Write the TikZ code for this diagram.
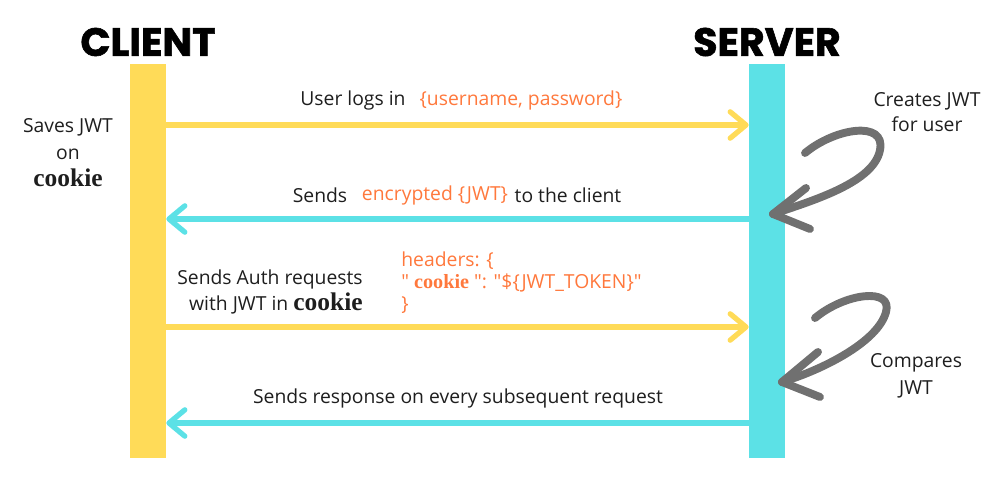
\documentclass[tikz,border=0pt]{standalone}
\usepackage{fontspec}
\setmainfont{Open Sans}[Ligatures=TeXOff]
\newfontfamily\titlefont[BoldFeatures={FakeBold=1.5}]{Poppins}
\newfontfamily\serifck{Liberation Serif}
\usetikzlibrary{arrows.meta}
\definecolor{ylw}{RGB}{255,219,88}
\definecolor{cyn}{RGB}{92,225,230}
\definecolor{org}{RGB}{255,120,60}
\definecolor{txt}{RGB}{30,30,30}
\definecolor{brush}{RGB}{112,112,112}
\newcommand{\ck}{{\serifck\bfseries\fontsize{14.5}{15}\selectfont cookie}}
\newcommand{\cks}{{\serifck\bfseries\fontsize{11.5}{13}\selectfont cookie}}
\begin{document}
\begin{tikzpicture}[x=0.02cm,y=-0.02cm,
  bar/.style={inner sep=0, minimum width=0.72cm, minimum height=7.88cm, anchor=north},
  ttl/.style={font=\titlefont\bfseries\fontsize{22.5}{24}\selectfont, text=black, inner sep=0},
  msg/.style={line width=3pt, -{Straight Barb[length=9pt,width=15pt,line cap=round,line join=round]}},
  lbl/.style={font=\fontsize{11}{15}\selectfont, text=txt, inner sep=0},
  olbl/.style={font=\fontsize{11}{15}\selectfont, text=org, inner sep=0},
  curl/.style={draw=brush, line width=4.5pt, line cap=round, line join=round}]
\useasboundingbox (0,0) rectangle (1000,486);
% lifelines
\node[bar, fill=ylw] (client) at (148,64) {};
\node[bar, fill=cyn] (server) at (767,64) {};
\node[ttl] (ct) at (148,42) {CLIENT};
\node[ttl] (st) at (767,42) {SERVER};
% message rows
\coordinate (y1) at (0,125);
\coordinate (y2) at (0,219);
\coordinate (y3) at (0,327);
\coordinate (y4) at (0,423);
\draw[msg, ylw] (client.east |- y1) -- (server.west |- y1);
\draw[msg, cyn] (server.west |- y2) -- (client.east |- y2);
\draw[msg, ylw] (client.east |- y3) -- (server.west |- y3);
\draw[msg, cyn] (server.west |- y4) -- (client.east |- y4);
% labels
\node[lbl] (l1) at (353,100) {User logs in};
\node[olbl] (l1o) at (521,100) {\{username, password\}};
\node[lbl] (l2a) at (320,195) {Sends};
\node[olbl] (l2o) at (435,195) {encrypted \{JWT\}};
\node[lbl] (l2b) at (568,195) {to the client};
\node[lbl, align=right, anchor=east] (l3) at (363,292) {Sends Auth requests\\with JWT in \ck};
\node[olbl, align=left, anchor=west, font=\fontsize{11}{12.5}\selectfont] (l3o) at (401,283) {headers: \{\\"\ \cks\ ": "\$\{JWT\_TOKEN\}"\\\}};
\node[lbl] (l4) at (458,398) {Sends response on every subsequent request};
\node[lbl, align=center, font=\fontsize{11}{15.3}\selectfont] (save) at (68,153) {Saves JWT\\on\\\ck};
\node[lbl, align=center, font=\fontsize{11}{14.2}\selectfont] (create) at (927,112) {Creates JWT\\for user};
\node[lbl, align=center, font=\fontsize{11}{15.3}\selectfont] (cmp) at (916,376) {Compares\\JWT};
% curly arrows
\coordinate (t1) at (773,214);
\coordinate (t2) at (782,382);
\draw[curl] (805,153) .. controls (835,128) and (886,120) .. (880,150) .. controls (874,182) and (815,200) .. (t1);
\draw[curl] (806,188) -- (t1) -- (810,229);
\draw[curl] (815,318) .. controls (845,293) and (893,287) .. (886,312) .. controls (878,342) and (822,370) .. (t2);
\draw[curl] (818,352) -- (t2) -- (820,397);
\end{tikzpicture}
\end{document}
